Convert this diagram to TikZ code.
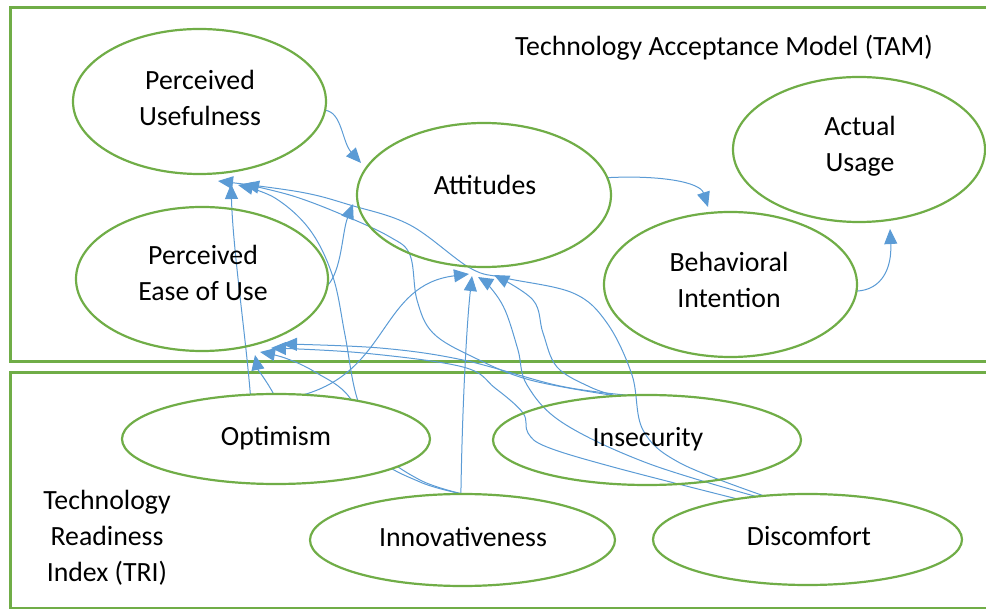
\documentclass[tikz,border=0pt]{standalone}
\usepackage{fontspec}
\setmainfont{Carlito}
\usetikzlibrary{shapes.geometric,arrows.meta,calc}
\definecolor{tgreen}{HTML}{70AD47}
\definecolor{tblue}{HTML}{5B9BD5}
\pgfdeclarelayer{bg}
\pgfsetlayers{bg,main}
\begin{document}
\begin{tikzpicture}[x=1pt,y=-1pt,
  ell/.style={ellipse,draw=tgreen,line width=2.2pt,inner sep=0pt,outer sep=0pt},
  frame/.style={draw=tgreen,line width=3pt},
  conn/.style={draw=tblue,line width=1pt,-{Triangle[length=15pt,width=13pt]}},
  lbl/.style={align=center,font=\fontsize{27.8}{36}\selectfont,inner sep=0pt}]
\useasboundingbox (0,0) rectangle (986,609);
\clip (0,0) rectangle (986,609);

% TAM ellipses
\node[ell,minimum width=253pt,minimum height=145pt] (pu) at (199.5,101.5) {};
\node[ell,minimum width=252pt,minimum height=144pt] (peou) at (202,279) {};
\node[ell,minimum width=254pt,minimum height=144pt] (att) at (484,195) {};
\node[ell,minimum width=252pt,minimum height=145pt] (au) at (859,149.5) {};
\node[ell,minimum width=253pt,minimum height=145pt] (bi) at (730.5,284.5) {};

% TRI ellipses
\node[ell,fill=white,minimum width=308pt,minimum height=90pt] (opt) at (276,439) {};
\node[ell,fill=white,minimum width=305pt,minimum height=92pt] (inn) at (462.5,540) {};
\node[ell,minimum width=308pt,minimum height=90pt] (ins) at (647,440) {};
\node[ell,fill=white,minimum width=309pt,minimum height=91pt] (dis) at (807.5,539.5) {};

% texts
\node[lbl] (pu-t) at (200,97.5) {Perceived\\Usefulness};
\node[lbl] (peou-t) at (203,273) {Perceived\\Ease of Use};
\node[lbl] (att-t) at (485,185) {Attitudes};
\node[lbl] (au-t) at (860,146) {Actual\\Usage};
\node[lbl] (bi-t) at (729,280) {Behavioral\\Intention};
\node[lbl] (opt-t) at (276,438) {Optimism};
\node[lbl] (inn-t) at (463,537) {Innovativeness};
\node[lbl] (ins-t) at (648,439) {Insecurity};
\node[lbl] (dis-t) at (809,536.5) {Discomfort};
\node[lbl] (tam) at (724,48) {Technology Acceptance Model (TAM)};
\node[lbl] (tri) at (107,538) {Technology\\Readiness\\Index (TRI)};

% arrow tips (free ends)
\coordinate (tPUATT) at (361,163);
\coordinate (tATTBI) at (708,207);
\coordinate (tBIAU) at (890,229);
\coordinate (tPEATT) at (353,204);
\coordinate (tOPU) at (231,184);
\coordinate (tOPE) at (255,355);
\coordinate (tOATT) at (469,274);
\coordinate (tIATT) at (472,276);
\coordinate (tIPU) at (238,185);
\coordinate (tIPE) at (260,352);
\coordinate (tSATT) at (494,275);
\coordinate (tSPU) at (244,184);
\coordinate (tSPE) at (282,344);
\coordinate (tDPE) at (271,348);
\coordinate (tDATT) at (478,277);
\coordinate (tDPU) at (218,181);

\begin{pgfonlayer}{bg}
\draw[frame] (10,7.5) rectangle (1000,362);
\draw[frame] (10.5,373) rectangle (1000,608);

% TAM connectors
\draw[conn] (pu.-4) .. controls (342,112) and (342,142) .. (tPUATT);
\draw[conn] (att.8) .. controls (660,175) and (700,182) .. (tATTBI);
\draw[conn] (bi.-3) .. controls (882,290) and (892,268) .. (tBIAU);
\draw[conn] (peou.-3) .. controls (342,270) and (342,232) .. (tPEATT);

% Optimism
\draw[conn] (opt.120) .. controls (245,330) and (233,250) .. (tOPU);
\draw[conn] (opt.93) .. controls (266,380) and (258,370) .. (tOPE);
\draw[conn] (opt.58) .. controls (390,370) and (380,285) .. (tOATT);

% Innovativeness
\draw[conn] (inn.92) .. controls (462,420) and (466,330) .. (tIATT);
\draw[conn] plot[smooth,tension=0.6] coordinates {(inn.north) (420,480) (380,450) (357,398) (345,335) (333,277) (310,230) (275,198) (tIPU)};
\draw[conn] plot[smooth,tension=0.6] coordinates {(inn.north) (420,482) (375,455) (350,398) (315,372) (285,358) (tIPE)};

% Insecurity
\draw[conn] plot[smooth,tension=0.6] coordinates {(ins.125) (590,387) (557,367) (543,333) (533,300) (tSATT)};
\draw[conn] plot[smooth,tension=0.6] coordinates {(ins.125) (530,380) (473,357) (433,333) (417,300) (410,255) (390,237) (343,215) (293,196) (tSPU)};
\draw[conn] plot[smooth,tension=0.6] coordinates {(ins.112) (560,386) (463,360) (380,348) (tSPE)};

% Discomfort
\draw[conn] plot[smooth,tension=0.6] coordinates {(dis.150) (613,467) (547,447) (528,433) (523,413) (495,388) (463,367) (363,353) (tDPE)};
\draw[conn] plot[smooth,tension=0.6] coordinates {(dis.140) (647,463) (563,423) (527,385) (518,350) (505,310) (490,287) (tDATT)};
\draw[conn] plot[smooth,tension=0.6] coordinates {(dis.135) (680,463) (643,430) (632,375) (607,323) (573,293) (505,278) (470,268) (410,225) (350,205) (300,192) (tDPU)};
\end{pgfonlayer}
\end{tikzpicture}
\end{document}
